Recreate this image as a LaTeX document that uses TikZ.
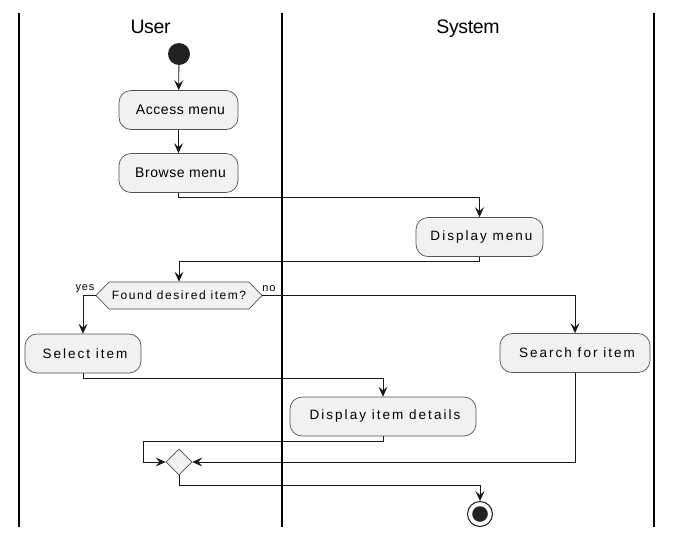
\documentclass[tikz,border=0pt]{standalone}
\usepackage{fontspec}
\setmainfont{Liberation Sans}
\usetikzlibrary{arrows.meta,shapes.geometric,shapes.symbols}
\definecolor{boxfill}{HTML}{F1F1F1}
\definecolor{boxline}{HTML}{181818}
\definecolor{dotfill}{HTML}{222222}
\tikzset{
  lane/.style={line width=1.6pt, black},
  lanehead/.style={font=\fontsize{19.5}{22}\selectfont\addfontfeature{LetterSpace=-2}, inner sep=0pt, anchor=base},
  act/.style={draw=boxline!75, fill=boxfill, rounded corners=12pt, minimum height=39pt, inner sep=0pt, line width=0.7pt,
    font=\fontsize{13.5}{15}\selectfont\addfontfeature{LetterSpace=15}},
  actn/.style={act, font=\fontsize{14}{15}\selectfont\addfontfeature{LetterSpace=4}},
  dec/.style={signal, signal to=east and west, signal pointer angle=92, draw=boxline!75, fill=boxfill, line width=0.7pt,
    minimum width=166pt, minimum height=27pt, inner sep=0pt, font=\fontsize{12}{14}\selectfont\addfontfeature{LetterSpace=13}},
  mergenode/.style={diamond, aspect=1, draw=boxline!75, fill=boxfill, line width=0.7pt, minimum width=26pt, minimum height=26pt, inner sep=0pt},
  startnode/.style={circle, fill=dotfill, minimum size=22pt, inner sep=0pt},
  endnode/.style={circle, draw=boxline, line width=1pt, fill=white, minimum size=25pt, inner sep=0pt,
    path picture={\fill[dotfill] (path picture bounding box.center) circle (7.8pt);}},
  lbl/.style={font=\fontsize{11}{13}\selectfont\addfontfeature{LetterSpace=8}, inner sep=0pt},
  flow/.style={draw=boxline, line width=0.8pt, -{Stealth[length=10pt,width=9pt,inset=4pt]}}
}
\begin{document}
\begin{tikzpicture}[x=1pt,y=-1pt]
\useasboundingbox (0,0) rectangle (679,541);
\fill[white] (0,0) rectangle (679,541);
% swimlane separators
\draw[lane] (19,13) -- (19,527);
\draw[lane] (282,13) -- (282,527);
\draw[lane] (654,13) -- (654,527);
\node[lanehead] (huser) at (150.5,33.5) {User};
\node[lanehead] (hsys) at (468,33.5) {System};
% nodes
\node[startnode] (start) at (179,54) {};
\node[actn, minimum width=119pt] (access) at (178.5,110) {\hspace*{4pt}Access menu};
\node[actn, minimum width=119pt] (browse) at (178.5,173) {\hspace*{4pt}Browse menu};
\node[act, minimum width=127pt] (dmenu) at (479.5,237) {\hspace*{4pt}Display menu};
\node[dec] (found) at (179,295.5) {Found desired item?};
\node[lbl] (yes) at (85,289) {yes};
\node[lbl] (no) at (269,289) {no};
\node[act, minimum width=116pt] (select) at (83,353.5) {\hspace*{4pt}Select item};
\node[act, minimum width=150pt] (search) at (575,353) {\hspace*{4pt}Search for item};
\node[act, minimum width=186pt] (ddet) at (383,416.5) {\hspace*{4pt}Display item details};
\node[mergenode] (merge) at (179,462) {};
\node[endnode] (end) at (480,514) {};
\coordinate (mleft) at (143,462);
% connectors
\draw[flow] (start) -- (access);
\draw[flow] (access) -- (browse);
\draw[flow] (browse.south) -- ++(0,5) -| (dmenu.north);
\draw[flow] (dmenu.south) -- ++(0,5) -| (found.north);
\draw[flow] (found.west) -| (select.north);
\draw[flow] (found.east) -| (search.north);
\draw[flow] (select.south) -- ++(0,5) -| (ddet.north);
\draw[flow] (ddet.south) -- ++(0,5) -| (mleft) -- (merge.west);
\draw[flow] (search.south) |- (merge.east);
\draw[flow] (merge.south) -- ++(0,10) -| (end.north);
\end{tikzpicture}
\end{document}
